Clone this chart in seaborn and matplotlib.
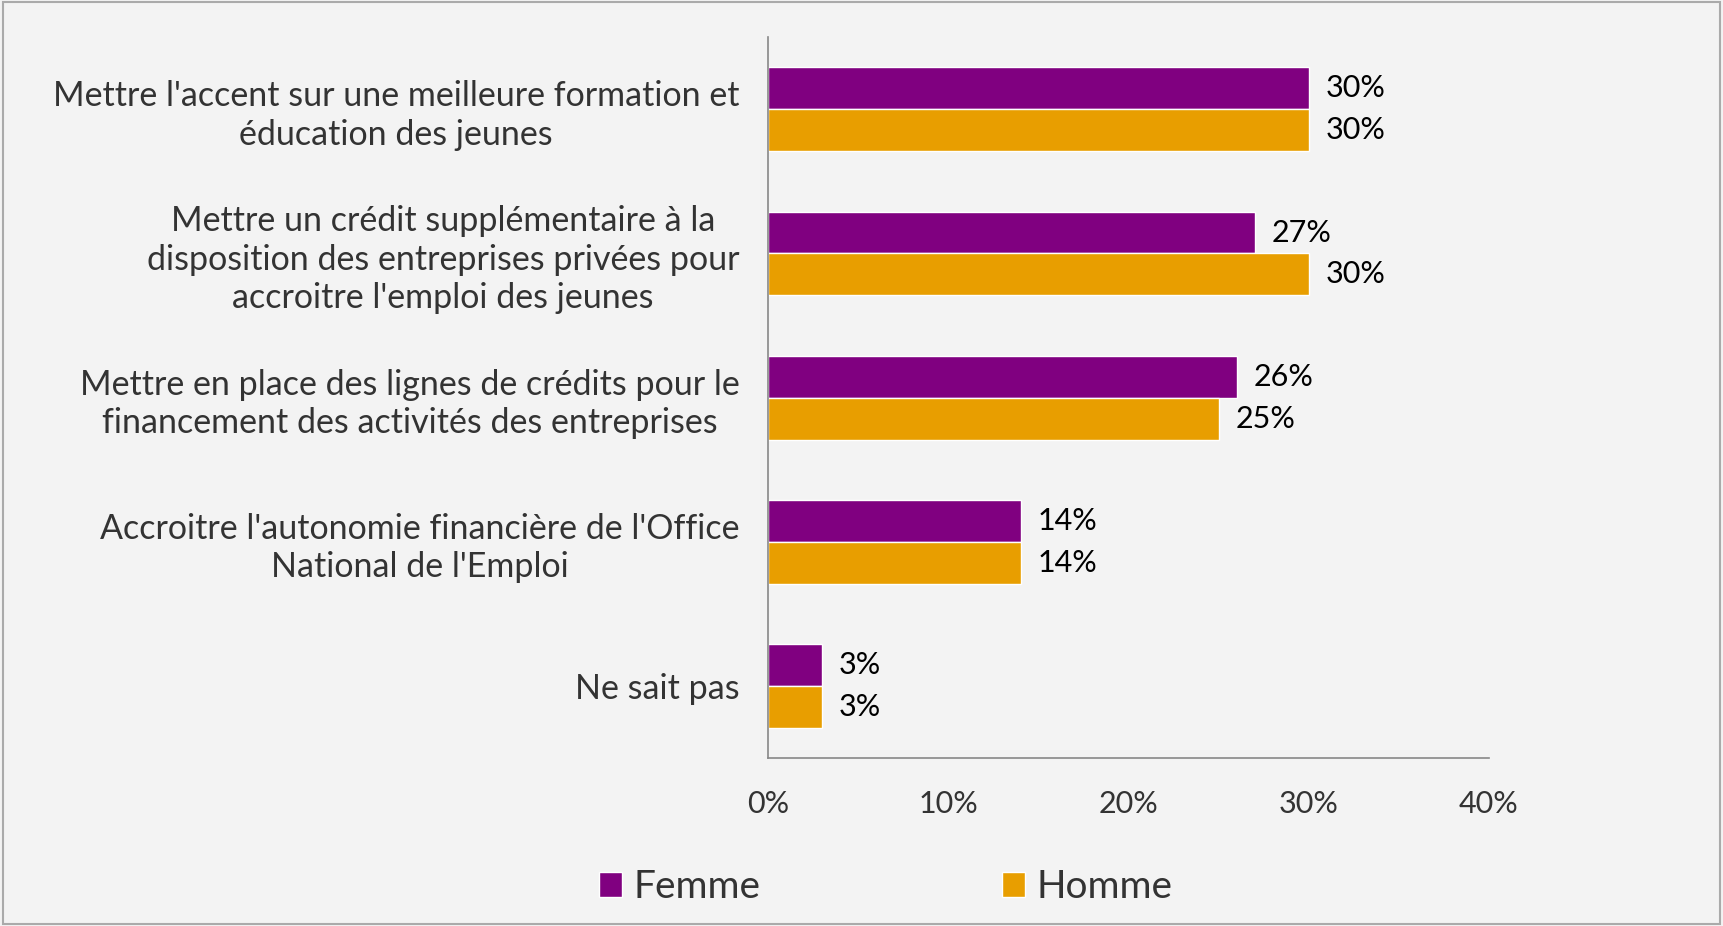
import pandas as pd
import matplotlib.pyplot as plt
import seaborn as sns
from matplotlib.ticker import FixedLocator

# data
categories = [
    "Mettre l'accent sur une meilleure formation et\néducation des jeunes",
    "Mettre un crédit supplémentaire à la\ndisposition des entreprises privées pour\naccroitre l'emploi des jeunes",
    "Mettre en place des lignes de crédits pour le\nfinancement des activités des entreprises",
    "Accroitre l'autonomie financière de l'Office\nNational de l'Emploi",
    "Ne sait pas",
]
femme = [30, 27, 26, 14, 3]
homme = [30, 30, 25, 14, 3]
series = ["Femme", "Homme"]
colors = ["#800080", "#E89E00"]
x_ticks = [0, 10, 20, 30, 40]

df = pd.DataFrame({
    "cat": categories * 2,
    "val": femme + homme,
    "serie": [series[0]] * len(categories) + [series[1]] * len(categories),
})

sns.set_style("white")
plt.rcParams["font.family"] = ["Lato", "DejaVu Sans"]
text_col = "#333333"

fig = plt.figure(figsize=(17.23, 9.26), dpi=100, facecolor="#f3f3f3")
ax = fig.add_axes([0.446, 0.181, 0.418, 0.779])
ax.set_facecolor("#f3f3f3")

sns.barplot(data=df, y="cat", x="val", hue="serie", palette=colors,
            orient="h", width=0.58, saturation=1, ax=ax, legend=True)

for cont in ax.containers:
    ax.bar_label(cont, labels=[f"{v:.0f}%" for v in cont.datavalues],
                 padding=12, fontsize=22, color="black")

ax.set_xlim(0, 40)
ax.set_ylim(len(categories) - 0.5, -0.5)
ax.set_xticks(x_ticks)
ax.set_xticklabels([f"{t}%" for t in x_ticks], fontsize=22, color=text_col)
ax.set_yticks(range(len(categories)))
ax.set_yticklabels(categories, fontsize=24.5, color=text_col,
                   multialignment="center", linespacing=1.25)
ax.yaxis.set_minor_locator(FixedLocator([i - 0.5 for i in range(len(categories) + 1)]))
ax.tick_params(axis="y", which="major", length=0, pad=21)
ax.tick_params(axis="y", which="minor", length=9, color="#888888", direction="out")
ax.tick_params(axis="x", length=9, color="#888888", direction="out", pad=14)
ax.set_xlabel("")
ax.set_ylabel("")

for side in ["top", "right"]:
    ax.spines[side].set_visible(False)
for side in ["left", "bottom"]:
    ax.spines[side].set_color("#888888")
    ax.spines[side].set_linewidth(1.2)

ax.legend(handles=ax.get_legend().legend_handles, labels=series,
          loc="center", bbox_to_anchor=(0.514, 0.042),
          bbox_transform=fig.transFigure, ncol=2, frameon=False,
          fontsize=28, handlelength=0.6, handleheight=0.6, handletextpad=0.3,
          columnspacing=6.2, labelcolor=text_col)

# thin frame around the whole picture
fig.patches.append(plt.Rectangle((0.002, 0.002), 0.996, 0.996, transform=fig.transFigure,
                                 fill=False, edgecolor="#aaaaaa", linewidth=1.5))

fig.savefig("out.png", dpi=100, facecolor=fig.get_facecolor())
